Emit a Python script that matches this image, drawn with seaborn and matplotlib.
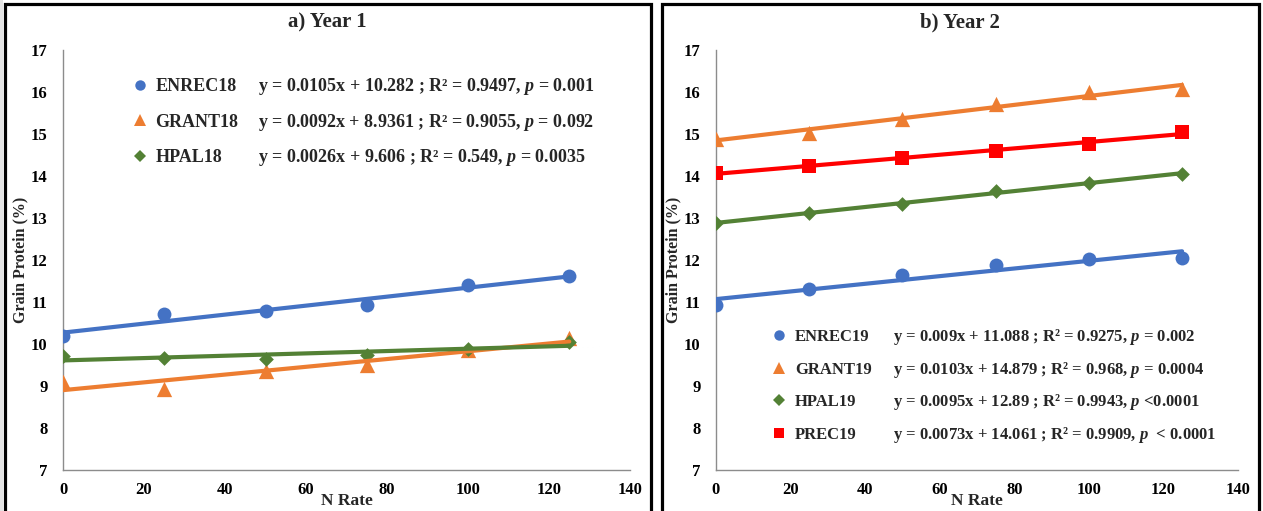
import numpy as np
import pandas as pd
import seaborn as sns
import matplotlib
matplotlib.use("Agg")
import matplotlib.pyplot as plt
from matplotlib.lines import Line2D
from matplotlib.patches import Rectangle

# ---------------- data ----------------
n_rate = [0, 25, 50, 75, 100, 125]

enrec18 = [10.19, 10.71, 10.79, 10.93, 11.40, 11.62]
grant18 = [9.10, 8.93, 9.36, 9.50, 9.85, 10.14]
hpal18 = [9.71, 9.67, 9.64, 9.75, 9.88, 10.05]

enrec19 = [10.93, 11.31, 11.64, 11.88, 12.02, 12.05]
grant19 = [14.88, 15.02, 15.36, 15.72, 16.00, 16.07]
hpal19 = [12.88, 13.12, 13.33, 13.64, 13.83, 14.05]
prec19 = [14.07, 14.24, 14.43, 14.60, 14.76, 15.05]

names18 = ["ENREC18", "GRANT18", "HPAL18"]
eqs18 = [
    "y = 0.0105x + 10.282 ; R² = 0.9497, $p$ = 0.001",
    "y = 0.0092x + 8.9361 ; R² = 0.9055, $p$ = 0.092",
    "y = 0.0026x + 9.606 ; R² = 0.549, $p$ = 0.0035",
]
names19 = ["ENREC19", "GRANT19", "HPAL19", "PREC19"]
eqs19 = [
    "y = 0.009x + 11.088 ; R² = 0.9275, $p$ = 0.002",
    "y = 0.0103x + 14.879 ; R² = 0.968, $p$ = 0.0004",
    "y = 0.0095x + 12.89 ; R² = 0.9943, $p$ <0.0001",
    "y = 0.0073x + 14.061 ; R² = 0.9909, $p$  < 0.0001",
]
x_ticks = [0, 20, 40, 60, 80, 100, 120, 140]
y_ticks = [7, 8, 9, 10, 11, 12, 13, 14, 15, 16, 17]

# ---------------- style ----------------
sns.set_theme(style="white")
plt.rcParams['font.family'] = ['Liberation Serif', 'DejaVu Serif']
plt.rcParams['font.weight'] = 'bold'
plt.rcParams['mathtext.fontset'] = 'custom'
plt.rcParams['mathtext.rm'] = 'Liberation Serif:bold'
plt.rcParams['mathtext.it'] = 'Liberation Serif:italic:bold'
plt.rcParams['mathtext.bf'] = 'Liberation Serif:bold'

BLUE = "#4472C4"
ORANGE = "#ED7D31"
GREEN = "#538135"
RED = "#FF0000"

W, H = 1263, 511
fig = plt.figure(figsize=(W / 100, H / 100), dpi=100)
fig.patch.set_facecolor("white")


def px_axes(x0, x1, ytop, ybot):
    return fig.add_axes([x0 / W, 1 - ybot / H, (x1 - x0) / W, (ybot - ytop) / H])


ax1 = px_axes(63, 630, 50, 470)
ax2 = px_axes(716, 1238, 50, 470)

series1 = [(enrec18, BLUE, "o", 10), (grant18, ORANGE, "^", 11), (hpal18, GREEN, "D", 7.5)]
series2 = [(enrec19, BLUE, "o", 10), (grant19, ORANGE, "^", 11), (hpal19, GREEN, "D", 7.5), (prec19, RED, "s", 9.5)]


def draw(ax, series):
    for vals, col, mk, ms in series:
        sns.regplot(x=n_rate, y=vals, ax=ax, ci=None, color=col, marker=mk,
                    scatter_kws=dict(s=ms ** 2, linewidths=0, zorder=3, alpha=1),
                    line_kws=dict(lw=3.0, zorder=4, solid_capstyle='round'))
    ax.set_xlim(0, 140)
    ax.set_ylim(7, 17)
    ax.set_xticks(x_ticks)
    ax.set_yticks(y_ticks)
    ax.set_xticklabels([str(t) for t in x_ticks], fontsize=12, fontweight='bold')
    ax.set_yticklabels([str(t) for t in y_ticks], fontsize=12, fontweight='bold')
    ax.tick_params(axis='both', length=0, colors='black')
    ax.tick_params(axis='y', pad=11)
    ax.tick_params(axis='x', pad=9)
    for s in ['top', 'right']:
        ax.spines[s].set_visible(False)
    for s in ['left', 'bottom']:
        ax.spines[s].set_color('#8c8c8c')
        ax.spines[s].set_linewidth(1.0)
    ax.set_xlabel("N Rate", fontsize=12.5, fontweight='bold', labelpad=-4)
    ax.set_ylabel("Grain Protein (%)", fontsize=11.5, fontweight='bold', labelpad=2)
    ax.set_facecolor('white')


draw(ax1, series1)
draw(ax2, series2)


def add_legend(ax, series, names, anchor, spacing, fs):
    handles = [Line2D([], [], linestyle='none', marker=mk, color=col,
                      markersize=ms * 0.75, markeredgewidth=0)
               for _, col, mk, ms in series]
    leg = ax.legend(handles, names, loc='upper left', bbox_to_anchor=anchor,
                    frameon=False, fontsize=fs, handlelength=0.9 * 12 / fs,
                    handletextpad=0.5 * 12 / fs, labelspacing=spacing, borderpad=0,
                    borderaxespad=0)
    for t in leg.get_texts():
        t.set_fontweight('bold')
    return leg


leg1 = add_legend(ax1, series1, names18, (0.122, 0.9325), 1.02, 13)
leg2 = add_legend(ax2, series2, names19, (0.107, 0.335), 0.99, 12)

fig.canvas.draw()


def add_equations(ax, leg, eqs, eq_x, fs):
    inv = ax.transAxes.inverted()
    for t, eq in zip(leg.get_texts(), eqs):
        bb = t.get_window_extent()
        yc = inv.transform((0, (bb.y0 + bb.y1) / 2))[1]
        ax.text(eq_x, yc, eq, transform=ax.transAxes, va='center', ha='left',
                fontsize=fs, fontweight='bold')


add_equations(ax1, leg1, eqs18, 0.344, 13)
add_equations(ax2, leg2, eqs19, 0.339, 12)

# titles, centered on each framed panel
fig.text(327 / W, 1 - 22 / H, "a) Year 1", ha='center', va='center', fontsize=15, fontweight='bold')
fig.text(960 / W, 1 - 22 / H, "b) Year 2", ha='center', va='center', fontsize=15, fontweight='bold')

# panel frames
for x0, x1 in [(5, 651), (662, 1259)]:
    fig.add_artist(Rectangle((x0 / W, -0.02), (x1 - x0) / W, 1.02 - 4 / H,
                             transform=fig.transFigure, fill=False,
                             edgecolor='black', linewidth=2.3))
fig.add_artist(Rectangle((0, 0), 3 / W, 1, transform=fig.transFigure,
                         facecolor='#e3e3e3', edgecolor='none'))

fig.savefig("out.png", dpi=100)
